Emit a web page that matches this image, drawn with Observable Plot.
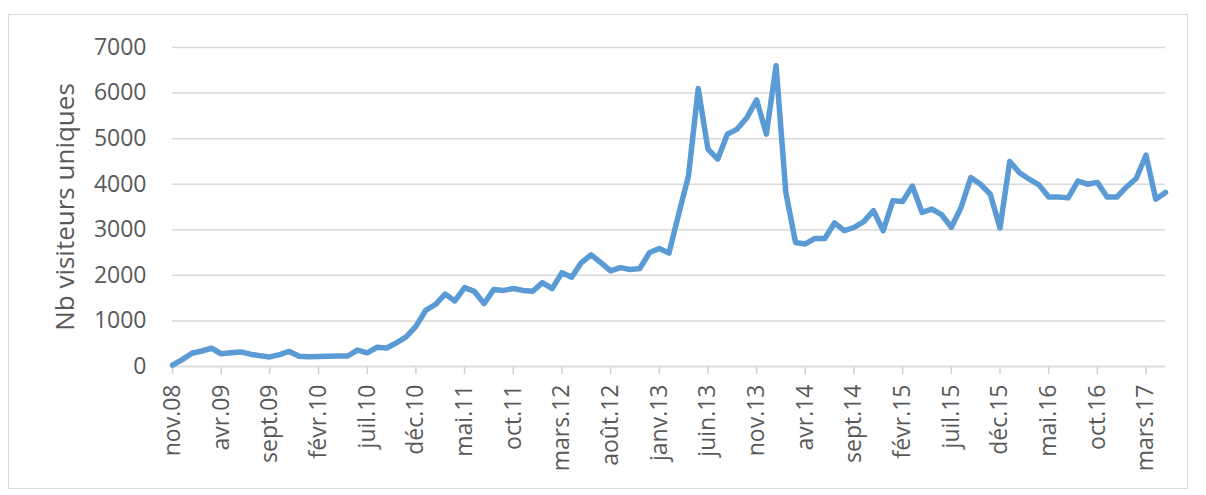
<!DOCTYPE html>
<html><head><meta charset="utf-8">
<script src="https://cdn.jsdelivr.net/npm/d3@7"></script>
<script src="https://cdn.jsdelivr.net/npm/@observablehq/plot@0.6"></script>
<style>
body{margin:0;background:#fff;}
#wrap{position:relative;width:1206px;height:495px;}
#border{position:absolute;left:8px;top:14px;width:1180px;height:475px;border:1.5px solid #d9d9d9;box-sizing:border-box;pointer-events:none}
</style></head><body><div id="wrap"><div id="border"></div></div>
<script>
const monthNames = ["janv","févr","mars","avr","mai","juin","juil","août","sept","oct","nov","déc"];
const startYear = 2008, startMonthIndex = 10; // nov. 2008
const visitors = [
  30, 150, 290, 340, 400, 280, 300, 320, 270, 235,
  210, 260, 330, 225, 215, 222, 225, 230, 230, 360,
  300, 420, 405, 520, 650, 880, 1230, 1360, 1590, 1440,
  1730, 1650, 1380, 1690, 1670, 1710, 1670, 1650, 1840, 1710,
  2060, 1960, 2280, 2450, 2280, 2100, 2170, 2130, 2150, 2500,
  2590, 2490, 3350, 4180, 6100, 4770, 4550, 5100, 5210, 5460,
  5850, 5100, 6600, 3820, 2720, 2690, 2810, 2810, 3150, 2980,
  3050, 3180, 3420, 2980, 3640, 3620, 3960, 3380, 3455, 3330,
  3055, 3490, 4145, 4000, 3780, 3040, 4500, 4250, 4110, 3985,
  3720, 3720, 3700, 4070, 4000, 4040, 3720, 3720, 3940, 4130,
  4640, 3670, 3820
];
const yTicks = [0, 1000, 2000, 3000, 4000, 5000, 6000, 7000];
const yLabel = "Nb visiteurs uniques";

const months = visitors.map((_, i) => {
  const m = startMonthIndex + i;
  return monthNames[m % 12] + "." + String((startYear + Math.floor(m / 12)) % 100).padStart(2, "0");
});
const xTicks = months.filter((_, i) => i % 5 === 0);
const data = visitors.map((v, i) => ({month: months[i], value: v}));

const chart = Plot.plot({
  width: 1206, height: 495,
  marginLeft: 172, marginRight: 41, marginTop: 47, marginBottom: 129,
  style: {fontFamily: "'Open Sans', sans-serif", fontSize: "23px", color: "#595959", background: "transparent"},
  x: {type: "point", domain: months, padding: 0},
  y: {domain: [0, 7000]},
  marks: [
    Plot.gridY(yTicks, {stroke: "#d9d9d9", strokeOpacity: 1, strokeWidth: 1.5}),
    Plot.axisY(yTicks, {tickSize: 0, tickPadding: 26, label: null, fontSize: 23, fill: "#595959", tickFormat: d => String(d)}),
    Plot.axisX(xTicks, {tickSize: 8, tickPadding: 10, tickRotate: -90, label: null, fontSize: 23, fill: "#595959", stroke: "#d0d0d0", strokeWidth: 1.5}),
    Plot.ruleY([0], {stroke: "#d9d9d9", strokeWidth: 1.5}),
    Plot.text([yLabel], {x: () => months[0], y: () => 3500, text: d => d, rotate: -90, dx: -107, fontSize: 26, fill: "#595959", textAnchor: "middle"}),
    Plot.line(data, {x: "month", y: "value", stroke: "#5b9bd5", strokeWidth: 5.5, strokeLinejoin: "round", strokeLinecap: "round"})
  ]
});
document.getElementById("wrap").appendChild(chart);
chart.style.position = "absolute";
chart.style.left = "0";
chart.style.top = "0";
</script>
</body></html>
